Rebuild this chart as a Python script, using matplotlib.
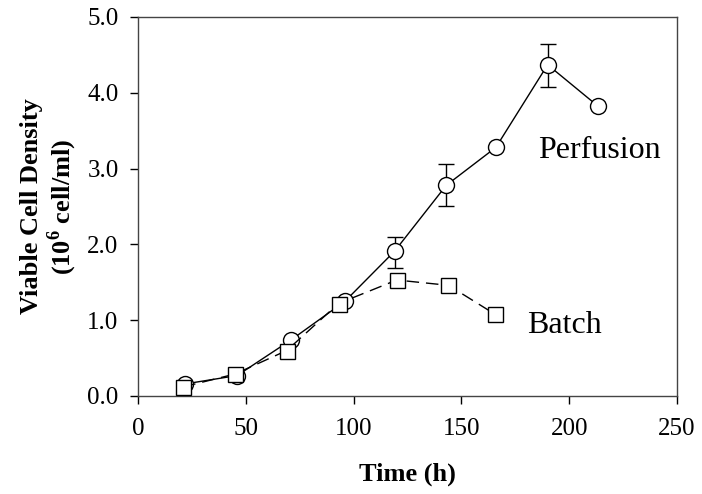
import numpy as np
from matplotlib import pyplot as plt

plt.rcParams['font.family'] = ['Liberation Serif', 'DejaVu Serif']
plt.rcParams['mathtext.fontset'] = 'custom'
plt.rcParams['mathtext.rm'] = 'Liberation Serif'
plt.rcParams['mathtext.bf'] = 'Liberation Serif:bold'

# perfusion culture
perf_t = [22, 46, 71, 96, 119, 143, 166, 190, 213.5]
perf_vcd = [0.16, 0.27, 0.74, 1.25, 1.91, 2.78, 3.28, 4.37, 3.82]
perf_err_lo = [0, 0, 0, 0, 0.22, 0.28, 0, 0.30, 0]
perf_err_hi = [0, 0, 0, 0, 0.19, 0.28, 0, 0.28, 0]

# batch culture
batch_t = [21, 45, 69, 93, 120, 144, 165.5]
batch_vcd = [0.12, 0.29, 0.60, 1.22, 1.53, 1.46, 1.08]

fig = plt.figure(figsize=(7.02, 4.94), dpi=100)
ax = fig.add_axes([0.1966, 0.1984, 0.7678, 0.7672])

ax.plot(batch_t, batch_vcd, color='black', lw=1, dashes=(9, 5), marker='s', ms=10.8,
        mfc='white', mec='black', mew=1, zorder=3)
ax.errorbar(perf_t, perf_vcd, yerr=[perf_err_lo, perf_err_hi], color='black', lw=1,
            marker='o', ms=11.5, mfc='white', mec='black', mew=1, capsize=6, elinewidth=1,
            capthick=1, zorder=2)

ax.text(185.7, 3.14, 'Perfusion', fontsize=23, va='baseline', ha='left')
ax.text(180.6, 0.83, 'Batch', fontsize=23, va='baseline', ha='left')

ax.set_xlim(0, 250)
ax.set_ylim(0, 5)
ax.set_xticks([0, 50, 100, 150, 200, 250])
ax.set_yticks([0, 1, 2, 3, 4, 5])
ax.set_yticklabels([f'{v:.1f}' for v in [0, 1, 2, 3, 4, 5]])
ax.tick_params(direction='out', length=6, width=1, labelsize=18)
ax.tick_params(axis='y', pad=8)
ax.tick_params(axis='x', pad=10)
for s in ax.spines.values():
    s.set_color('#444444')
    s.set_linewidth(1)

ax.set_xlabel('Time (h)', fontsize=19, fontweight='bold', labelpad=16)
ax.set_ylabel('Viable Cell Density\n(10$^\\mathbf{6}$ cell/ml)', fontsize=19,
              fontweight='bold', labelpad=6, linespacing=1.1)

plt.savefig('out.png', dpi=100)
